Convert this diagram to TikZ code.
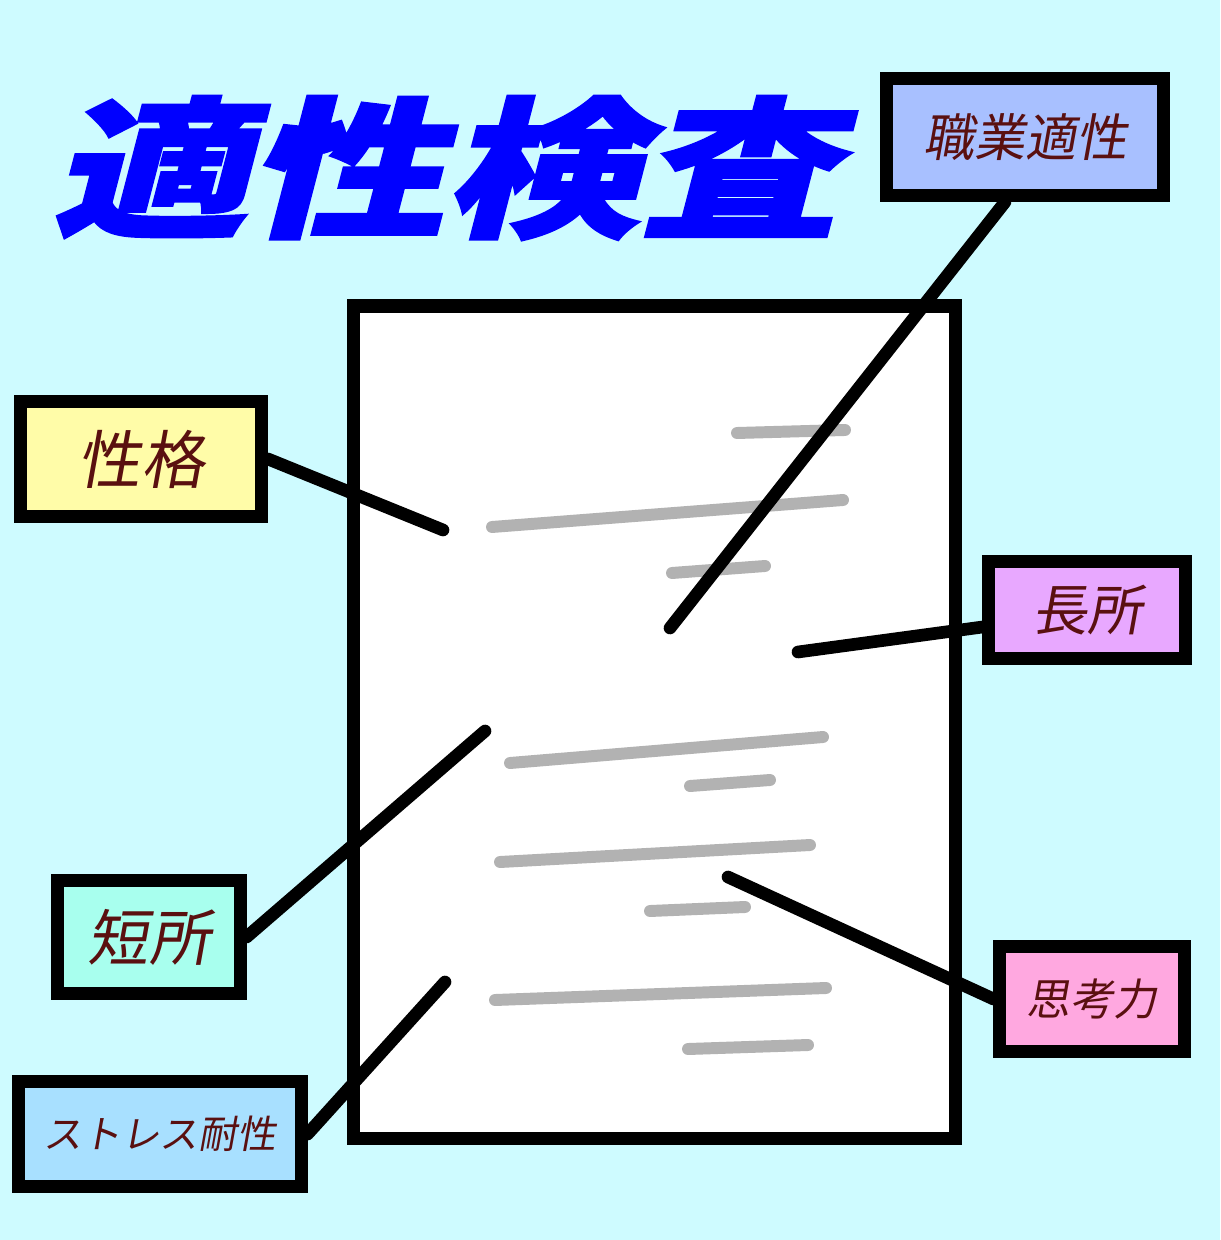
\documentclass[tikz,border=0pt]{standalone}
\usepackage{fontspec}
\newfontfamily\jafont[FakeSlant=0.18]{Noto Sans CJK JP}
\newfontfamily\titlefont[FakeSlant=0.2,FakeBold=1.5]{Noto Sans CJK JP}
\definecolor{bgcol}{RGB}{206,251,255}
\definecolor{txtcol}{RGB}{90,16,16}
\definecolor{linegray}{RGB}{178,178,178}
\begin{document}
\begin{tikzpicture}[x=0.01cm, y=-0.01cm,
  box/.style={draw=black,line width=3.7pt,inner sep=0pt,text=txtcol},
  link/.style={draw=black,line width=3.6pt,line cap=round},
  txtline/.style={draw=linegray,line width=3.4pt,line cap=round}]
\fill[bgcol] (0,0) rectangle (1220,1240);
\node[text=blue,font=\titlefont\bfseries\fontsize{43}{43}\selectfont,xscale=1.3,inner sep=0pt] (title) at (444,168) {適性検査};
\draw[fill=white,line width=3.7pt] (353,306) rectangle (955,1138);
% lines of text on the sheet
\draw[txtline] (737,433) -- (845,430);
\draw[txtline] (492,527) -- (843,500);
\draw[txtline] (672,573) -- (765,566);
\draw[txtline] (510,763) -- (823,737);
\draw[txtline] (690,786) -- (770,780);
\draw[txtline] (500,862) -- (810,845);
\draw[txtline] (650,911) -- (745,907);
\draw[txtline] (495,1000) -- (826,988);
\draw[txtline] (688,1049) -- (808,1045);
% labels
\node[box,fill={rgb,255:red,255;green,252;blue,168},minimum width=2.41cm,minimum height=1.15cm,font=\jafont\fontsize{18}{18}\selectfont] (chara) at (141,459) {性格};
\node[box,fill={rgb,255:red,168;green,192;blue,255},minimum width=2.77cm,minimum height=1.17cm,font=\jafont\fontsize{14.5}{14.5}\selectfont] (job) at (1025,137) {職業適性};
\node[box,fill={rgb,255:red,232;green,168;blue,255},minimum width=1.96cm,minimum height=0.97cm,font=\jafont\fontsize{15.6}{15.6}\selectfont] (merit) at (1087,610) {長所};
\node[box,fill={rgb,255:red,168;green,255;blue,238},minimum width=1.82cm,minimum height=1.13cm,font=\jafont\fontsize{17.4}{17.4}\selectfont] (demerit) at (149,937) {短所};
\node[box,fill={rgb,255:red,255;green,168;blue,224},minimum width=1.84cm,minimum height=1.05cm,font=\jafont\fontsize{12.4}{12.4}\selectfont] (think) at (1092,999) {思考力};
\node[box,fill={rgb,255:red,168;green,224;blue,255},minimum width=2.82cm,minimum height=1.05cm,font=\jafont\fontsize{11}{11}\selectfont] (stress) at (160,1134) {ストレス耐性};
% pointers
\coordinate (pchara) at (443,530);
\coordinate (pjob) at (670,628);
\coordinate (pmerit) at (798,652);
\coordinate (pdemerit) at (485,731);
\coordinate (pthink) at (728,877);
\coordinate (pstress) at (445,982);
\draw[link] (chara.east) -- (pchara);
\draw[link] ([xshift=-0.2cm]job.south) -- (pjob);
\draw[link] ([yshift=-0.17cm]merit.west) -- (pmerit);
\draw[link] (demerit.east) -- (pdemerit);
\draw[link] (think.west) -- (pthink);
\draw[link] (stress.east) -- (pstress);
\end{tikzpicture}
\end{document}
